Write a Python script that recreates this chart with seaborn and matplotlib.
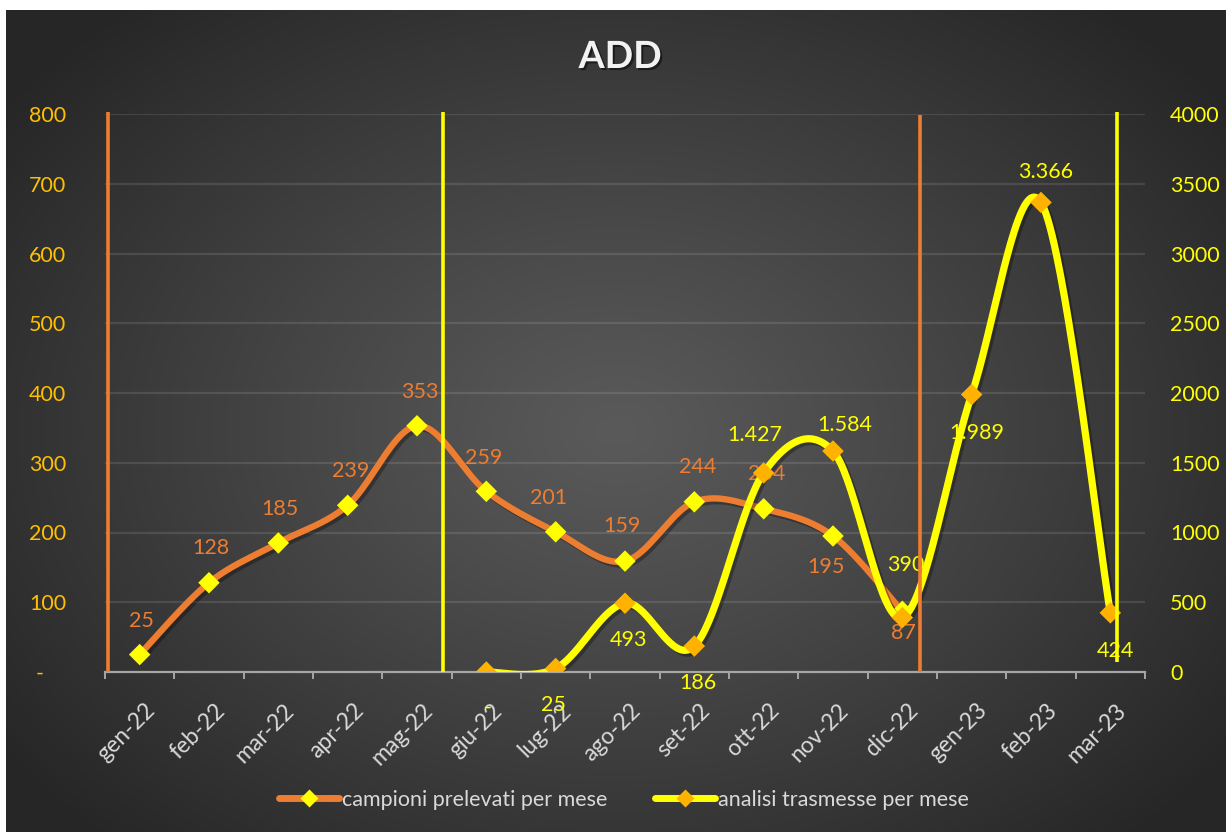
import numpy as np
import pandas as pd
import matplotlib
matplotlib.use("Agg")
import matplotlib.pyplot as plt
import matplotlib.patheffects as pe
import matplotlib.transforms as mtransforms
from matplotlib.lines import Line2D
import seaborn as sns

# ---- data ----
months = ["gen-22", "feb-22", "mar-22", "apr-22", "mag-22", "giu-22", "lug-22",
          "ago-22", "set-22", "ott-22", "nov-22", "dic-22", "gen-23", "feb-23", "mar-23"]
campioni = [25, 128, 185, 239, 353, 259, 201, 159, 244, 234, 195, 87,
            np.nan, np.nan, np.nan]
analisi = [np.nan, np.nan, np.nan, np.nan, np.nan, 0, 25, 493, 186, 1427, 1584, 390,
           1989, 3366, 424]
left_ticks = [0, 100, 200, 300, 400, 500, 600, 700, 800]
right_ticks = [0, 500, 1000, 1500, 2000, 2500, 3000, 3500, 4000]
series_names = ["campioni prelevati per mese", "analisi trasmesse per mese"]

# label offsets in pixels (dx, dy) relative to each point
camp_off = [(2, 34), (2, 35), (2, 34), (3, 34), (3, 34), (-3, 33), (-7, 34),
            (-3, 35), (3, 35), (3, 35), (-7, -31), (1, -22)]
anal_off = [(1, -36), (-2, -36), (4, -37), (4, -37), (-9, 38), (12, 26),
            (3, 53), (5, -38), (5, 30), (5, -38)]

ORANGE = "#ED7D31"
YELLOW = "#FFFF00"
GOLD = "#FFB300"
TICKGOLD = "#FFC000"
LIGHT = "#D9D9D9"

sns.set_theme(style="white")
plt.rcParams["font.family"] = ["Lato", "DejaVu Sans"]

W, H = 1226, 832
fig = plt.figure(figsize=(W / 100, H / 100), dpi=100, facecolor="white")


def fx(px):
    return px / W


def fy(py):
    return 1 - py / H


# background with soft radial gradient
bg = fig.add_axes([fx(6), 0, 1 - fx(6), 1 - 10 / H], zorder=-5)
bw, bh = 1220, 822
xx, yy = np.meshgrid(np.arange(bw), np.arange(bh))
r = np.sqrt(((xx - 610) / 760.0) ** 2 + ((yy - 420) / 560.0) ** 2)
val = 90 - 52 * np.clip(r, 0, 1) ** 1.1
img = np.dstack([val, val, val]) / 255.0
bg.imshow(img, aspect="auto", interpolation="bilinear")
bg.set_axis_off()


def smooth(xs, ys, n=40):
    pts = np.column_stack([xs, ys]).astype(float)
    out = []
    m = len(pts)
    for i in range(m - 1):
        p0 = pts[i - 1] if i > 0 else pts[i]
        p1, p2 = pts[i], pts[i + 1]
        p3 = pts[i + 2] if i + 2 < m else pts[i + 1]
        c1 = p1 + (p2 - p0) / 6.0
        c2 = p2 - (p3 - p1) / 6.0
        t = np.linspace(0, 1, n)[:, None]
        seg = ((1 - t) ** 3) * p1 + 3 * ((1 - t) ** 2) * t * c1 + 3 * (1 - t) * t ** 2 * c2 + t ** 3 * p2
        out.append(seg if i == 0 else seg[1:])
    s = np.vstack(out)
    return pd.DataFrame({"x": s[:, 0], "y": s[:, 1]})


ax = fig.add_axes([fx(105), fy(672), fx(1040), 558 / H])
ax.set_facecolor("none")
ax2 = ax.twinx()
ax2.set_facecolor("none")

ax.set_xlim(-0.5, len(months) - 0.5)
ax.set_ylim(0, 800)
ax2.set_ylim(0, 4000)

# grid
for v in left_ticks[1:]:
    ax.axhline(v, color=(1, 1, 1, 0.11), lw=1.6, zorder=0)

shadow = [pe.SimpleLineShadow(offset=(2, -2), shadow_color="black", alpha=0.3), pe.Normal()]

# campioni series (left axis)
idx = np.arange(len(months))
c_idx = [i for i, v in enumerate(campioni) if not np.isnan(v)]
c_val = [campioni[i] for i in c_idx]
dfc = smooth(c_idx, c_val)
sns.lineplot(data=dfc, x="x", y="y", ax=ax, color=ORANGE, lw=4.6, sort=False,
             estimator=None, zorder=3, path_effects=shadow)
sns.scatterplot(x=c_idx, y=c_val, ax=ax, marker="D", s=120, color=YELLOW,
                edgecolor="none", zorder=4)

# analisi series (right axis)
a_idx = [i for i, v in enumerate(analisi) if not np.isnan(v)]
a_val = [analisi[i] for i in a_idx]
dfa = smooth(a_idx, a_val)
sns.lineplot(data=dfa, x="x", y="y", ax=ax2, color=YELLOW, lw=5.2, sort=False,
             estimator=None, zorder=3, path_effects=shadow)
sns.scatterplot(x=a_idx, y=a_val, ax=ax2, marker="D", s=120, color=GOLD,
                edgecolor="none", zorder=4)


def fmt(v):
    if v == 0:
        return "-"
    return f"{int(v):,}".replace(",", ".")


for (i, v), (dx, dy) in zip(zip(c_idx, c_val), camp_off):
    ax.annotate(fmt(v), (i, v), xytext=(dx * 0.72, dy * 0.72), textcoords="offset points",
                ha="center", va="center", color=ORANGE, fontsize=15.5, zorder=6)
for (i, v), (dx, dy) in zip(zip(a_idx, a_val), anal_off):
    ax2.annotate(fmt(v), (i, v), xytext=(dx * 0.72, dy * 0.72), textcoords="offset points",
                 ha="center", va="center", color=YELLOW, fontsize=15.5, zorder=6)

# vertical marker lines
xt = ax2.get_xaxis_transform()
ax2.vlines([-0.5 + 0.04], 0, 1.0036, transform=xt, color=ORANGE, lw=2.6, zorder=7, clip_on=False)
ax2.vlines([4.375], 0, 1.0036, transform=xt, color=YELLOW, lw=2.6, zorder=7, clip_on=False)
ax2.vlines([11.255], 0, 0.998, transform=xt, color=ORANGE, lw=2.6, zorder=7, clip_on=False)
ax2.vlines([14.1], 0.018, 1.0036, transform=xt, color=YELLOW, lw=2.6, zorder=7, clip_on=False)

# axes styling
for a in (ax, ax2):
    for s in ("top", "left", "right", "bottom"):
        a.spines[s].set_visible(False)
    a.grid(False)
ax.spines["bottom"].set_visible(True)
ax.spines["bottom"].set_color("#A6A6A6")
ax.spines["bottom"].set_linewidth(1.6)

ax.set_xticks(np.arange(-0.5, len(months), 1.0))
ax.set_xticklabels([])
ax.tick_params(axis="x", which="major", length=5, width=1.4, color="#A6A6A6", direction="out", bottom=True)
ax.set_xticks(idx, minor=True)
ax.set_xticklabels(months, minor=True, rotation=45, ha="right", rotation_mode="anchor",
                   color=LIGHT, fontsize=16.5)
ax.tick_params(axis="x", which="minor", length=0, pad=20, bottom=True)
shift = mtransforms.ScaledTranslation(5 / 100, 0, fig.dpi_scale_trans)
for lab in ax.get_xticklabels(minor=True):
    lab.set_transform(lab.get_transform() + shift)

ax.set_yticks(left_ticks)
ax.set_yticklabels([fmt(v) + ("    " if v == 0 else "") for v in left_ticks],
                   color=TICKGOLD, fontsize=15.5)
ax.tick_params(axis="y", length=0, pad=28)
ax2.set_yticks(right_ticks)
ax2.set_yticklabels([str(v) for v in right_ticks], color=YELLOW, fontsize=15.5)
ax2.tick_params(axis="y", length=0, pad=18)
for a in (ax, ax2):
    a.set_xlabel("")
    a.set_ylabel("")

# title
fig.text(fx(620), fy(57), "ADD", ha="center", va="center", fontsize=27, weight="bold",
         color="#F2F2F2",
         path_effects=[pe.withSimplePatchShadow(offset=(1.5, -1.5), shadow_rgbFace="black", alpha=0.5)])

# legend
handles = [
    Line2D([], [], color=ORANGE, lw=5, marker="D", markersize=9, markerfacecolor=YELLOW,
           markeredgecolor="none"),
    Line2D([], [], color=YELLOW, lw=5, marker="D", markersize=9, markerfacecolor=GOLD,
           markeredgecolor="none"),
]
fig.legend(handles, series_names, loc="center", bbox_to_anchor=(fx(624), fy(800)), ncol=2,
           frameon=False, fontsize=15.5, labelcolor=LIGHT, handlelength=2.8,
           handletextpad=0.15, columnspacing=2.2)

fig.savefig("out.png", dpi=100, facecolor="white")
